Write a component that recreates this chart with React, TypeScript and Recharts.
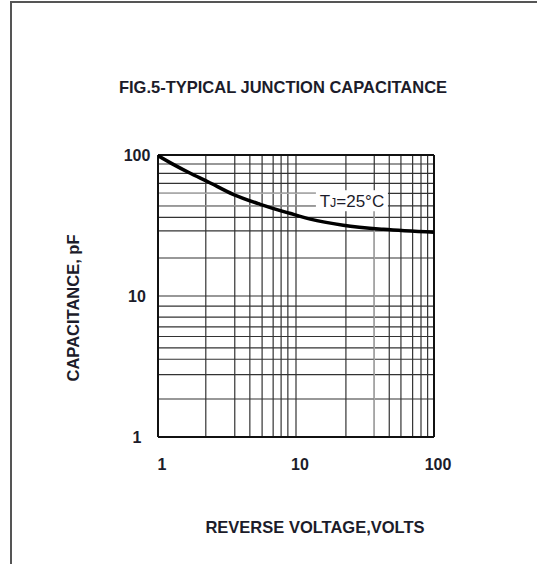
import React from 'react';
import { LineChart, Line, XAxis, YAxis, ReferenceLine, ReferenceDot } from 'recharts';

// Curve: typical junction capacitance (pF) vs reverse voltage (V), TJ = 25°C
const voltage = [1, 1.3, 1.7, 2.3, 3.5, 5.5, 9, 12.7, 22, 43, 100];
const capacitance = [99, 85.5, 74.5, 64.6, 52.6, 44.7, 38.6, 35.1, 31.8, 29.7, 28.3];

// Axis tick labels
const xTicks = [1, 10, 100];
const yTicks = [1, 10, 100];

// Grid line values as drawn on the datasheet
const xGrid = [2.22, 3.6, 4.63, 5.68, 6.83, 7.8, 8.73, 10, 23, 36.9, 47.4, 57.6, 70, 80.5, 89.9];
const yGrid = [1.86, 2.77, 3.56, 4.28, 5.16, 6.04, 7.08, 8.47, 10, 18.6, 29, 36.1, 43.6, 53.5, 63, 74.1, 86.3];

// Faint (grey) portions of some grid lines
const greyHLines = [43.6, 53.5];
const greyHEndX = 14;
const greyVLine = 36.9;
const greyVEndY = 40.7;

// Label anchor
const labelPoint = { x: 25, y: 47 };

const title = 'FIG.5-TYPICAL JUNCTION CAPACITANCE';
const xTitle = 'REVERSE VOLTAGE,VOLTS';
const yTitle = 'CAPACITANCE, pF';

const FONT = '"Liberation Sans", Arial, Helvetica, sans-serif';
const TEXT = '#1c1c2a';
const GRID = '#333';

const data = voltage.map((v, i) => ({ voltage: v, capacitance: capacitance[i] }));

const XTick = (props: any) => {
  const { x, y, payload } = props;
  return (
    <text x={x + 4} y={y} dy="0.71em" textAnchor="middle" fontFamily={FONT} fontWeight="bold" fontSize={16} fill={TEXT}>
      {payload.value}
    </text>
  );
};

const YTick = (props: any) => {
  const { x, y, payload } = props;
  return (
    <text x={x} y={y} dy="0.355em" textAnchor="middle" fontFamily={FONT} fontWeight="bold" fontSize={16} fill={TEXT}>
      {payload.value}
    </text>
  );
};

const XTitle = (props: any) => {
  const vb = props.viewBox || { x: 158, y: 437, width: 276, height: 100 };
  return (
    <text x={vb.x + vb.width / 2 + 19} y={vb.y + 96} textAnchor="middle" fontFamily={FONT} fontWeight="bold" fontSize={16.5} fill={TEXT}>
      {xTitle}
    </text>
  );
};

const YTitle = (props: any) => {
  const vb = props.viewBox || { x: 10, y: 155, width: 148, height: 282 };
  const cx = vb.x + 63;
  const cy = vb.y + vb.height / 2 + 12;
  return (
    <text x={cx} y={cy} transform={`rotate(-90 ${cx} ${cy})`} textAnchor="middle" dominantBaseline="central" fontFamily={FONT} fontWeight="bold" fontSize={16.5} fill={TEXT}>
      {yTitle}
    </text>
  );
};

const TjLabel = (props: any) => {
  const vb = props.viewBox || { x: 351, y: 201, width: 0, height: 0 };
  const cx = vb.x + (vb.width || 0) / 2;
  const cy = vb.y + (vb.height || 0) / 2;
  return (
    <g>
      <rect x={cx - 35} y={cy - 11} width={72} height={21} fill="#fff" />
      <text x={cx + 1} y={cy + 6} textAnchor="middle" fontFamily={FONT} fontSize={17} fill={TEXT}>
        T<tspan fontSize={12.5}>J</tspan>=25°C
      </text>
    </g>
  );
};

export default function App() {
  return (
    <div style={{ position: 'absolute', left: 0, top: 0, width: 537, height: 564, background: '#fff' }}>
      <div
        style={{
          position: 'absolute',
          left: 10,
          top: 1,
          width: 527,
          height: 563,
          borderTop: '2px solid #555',
          borderLeft: '2px solid #555',
          boxSizing: 'border-box',
        }}
      />
      <div
        style={{
          position: 'absolute',
          left: 283,
          top: 78,
          transform: 'translateX(-50%)',
          whiteSpace: 'nowrap',
          fontFamily: FONT,
          fontWeight: 'bold',
          fontSize: 16.5,
          lineHeight: '19px',
          color: TEXT,
        }}
      >
        {title}
      </div>
      <div style={{ position: 'absolute', left: 0, top: 0 }}>
        <LineChart width={537} height={564} data={data} margin={{ top: 155, right: 103, bottom: 27, left: 10 }}>
          <XAxis
            dataKey="voltage"
            type="number"
            scale="log"
            domain={[1, 100]}
            ticks={xTicks}
            allowDataOverflow
            height={100}
            tickSize={0}
            tickMargin={22}
            axisLine={false}
            tickLine={false}
            tick={<XTick />}
            label={<XTitle />}
          />
          <YAxis
            type="number"
            scale="log"
            domain={[1, 100]}
            ticks={yTicks}
            allowDataOverflow
            width={148}
            tickSize={0}
            tickMargin={21}
            axisLine={false}
            tickLine={false}
            tick={<YTick />}
            label={<YTitle />}
          />
          {xGrid.map((v) => (
            <ReferenceLine key={`vx${v}`} x={v} stroke={GRID} strokeWidth={1.2} />
          ))}
          {yGrid.map((v) => (
            <ReferenceLine key={`hy${v}`} y={v} stroke={GRID} strokeWidth={1.2} />
          ))}
          {greyHLines.map((v) => (
            <ReferenceLine key={`gh${v}`} segment={[{ x: 1, y: v }, { x: greyHEndX, y: v }]} stroke="#aaa" strokeWidth={1.4} />
          ))}
          <ReferenceLine segment={[{ x: greyVLine, y: 1 }, { x: greyVLine, y: greyVEndY }]} stroke="#aaa" strokeWidth={1.4} />
          <ReferenceLine x={1} stroke="#111" strokeWidth={2} />
          <ReferenceLine x={100} stroke="#111" strokeWidth={2} />
          <ReferenceLine y={1} stroke="#111" strokeWidth={2} />
          <ReferenceLine y={100} stroke="#111" strokeWidth={2} />
          <ReferenceDot x={labelPoint.x} y={labelPoint.y} r={0} fill="none" stroke="none" label={<TjLabel />} />
          <Line
            type="monotone"
            dataKey="capacitance"
            stroke="#000"
            strokeWidth={3.5}
            dot={false}
            isAnimationActive={false}
          />
        </LineChart>
      </div>
    </div>
  );
}
